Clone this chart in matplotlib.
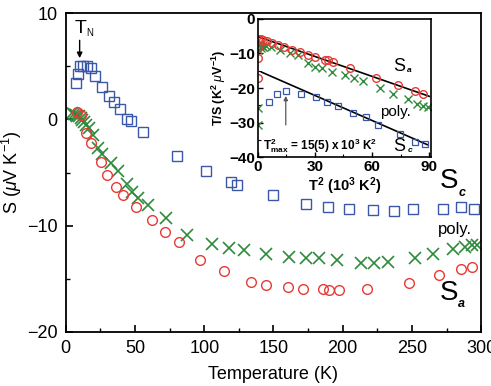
import numpy as np
import matplotlib.pyplot as plt

plt.rcParams['font.family'] = ['Liberation Sans', 'DejaVu Sans']
plt.rcParams['mathtext.fontset'] = 'custom'
plt.rcParams['mathtext.rm'] = 'Liberation Sans'
plt.rcParams['mathtext.it'] = 'Liberation Sans:italic'
plt.rcParams['mathtext.bf'] = 'Liberation Sans:bold'

# main panel: S vs T
T_c = [7.7, 8.9, 10.1, 12.5, 15.0, 18.1, 20.8, 26.2, 31.3, 34.9, 39.0, 43.9, 47.0, 55.5,
       80.5, 101, 119, 123.9, 149.9, 173.5, 189.2, 204.4, 221.8, 236.7, 250.7, 272.1, 285.6, 295]
S_c = [3.4, 4.25, 5.07, 5.07, 4.98, 4.88, 4.13, 3.07, 2.16, 1.62, 1.0, 0.07, -0.19, -1.19,
       -3.47, -4.88, -5.92, -6.13, -7.14, -7.92, -8.23, -8.39, -8.54, -8.64, -8.39, -8.39, -8.23, -8.42]

T_a = [8.0, 10.8, 14.5, 18, 25.1, 30.1, 36.6, 41.5, 50.6, 62, 71.6, 81.7, 96.9, 114.2, 133.5,
       144.6, 160.7, 171.1, 185.6, 190.4, 197.6, 217.4, 248.2, 269.7, 285.4, 293.3]
S_a = [0.65, 0.44, -1.3, -2.2, -4.0, -5.26, -6.35, -7.14, -8.26, -9.5, -10.6, -11.5, -13.2, -14.3,
       -15.28, -15.59, -15.74, -15.93, -16.0, -16.03, -16.03, -15.93, -15.37, -14.68, -14.1, -13.9]

T_p = [4.8, 6.0, 7.2, 8.4, 9.6, 10.8, 12, 13.2, 14.5, 16.8, 19.3, 22.9, 26.5, 33, 37.8, 43.9, 48,
       52.3, 59.5, 72.3, 87.3, 105.3, 118.1, 128.9, 144.6, 161.5, 173.5, 183.2, 196.2, 213.1,
       222.7, 233, 252.3, 264.9, 279.3, 288.5, 293.3, 297]
S_p = [0.6, 0.5, 0.44, 0.35, 0.28, 0.15, -0.03, -0.25, -0.5, -0.8, -1.44, -2.7, -3.3, -4.1, -4.9,
       -6.1, -6.8, -7.4, -8.1, -9.27, -10.9, -11.7, -12.14, -12.33, -12.7, -12.96, -13.08, -13.08,
       -13.27, -13.49, -13.49, -13.4, -13.0, -12.7, -12.24, -12.0, -11.86, -11.86]

# inset: T/S vs T^2
x_a = [0.1, 0.15, 0.2, 0.3, 1.5, 3, 5, 7.5, 10.7, 14, 18, 22, 26.5, 30, 35.3, 37, 39.6, 48.4,
       61.9, 73.5, 82.3, 86.5]
y_a = [-17.2, -11.4, -8.5, -5.8, -5.9, -6.1, -6.4, -6.9, -7.5, -8.2, -9, -9.6, -10.4, -11,
       -11.9, -12.0, -12.4, -14.3, -17, -19.1, -20.9, -21.8]
x_p = [0.2, 0.25, 0.3, 0.5, 1, 1.5, 2, 3, 4.5, 7.2, 11.6, 16.8, 21.2, 26.5, 30, 33.5, 38.8,
       45.8, 50.5, 55.4, 64.2, 70.9, 79.1, 83.5, 86.7, 89.6]
y_p = [-30.7, -25.9, -9, -7.2, -7.5, -8.5, -7.8, -8.2, -7.9, -8, -9, -9.8, -10.4, -12.8, -13.8,
       -14.3, -15.3, -16.2, -17.2, -18, -20.1, -21.8, -23.3, -24.7, -25.2, -25.6]
x_c = [6.0, 10.2, 14.7, 22.5, 30.4, 36.5, 42.3, 49.8, 56.7, 63.3, 74.7, 82.3, 87.6]
y_c = [-24.1, -21.7, -20.8, -21.7, -22.7, -24, -25.2, -27.2, -28.3, -30.7, -33.4, -35.6, -36.1]
fit_a_x, fit_a_y = [0, 90], [-5.1, -22.4]
fit_c_x, fit_c_y = [2, 89], [-15.4, -36.4]

red, green, blue = '#e83a35', '#2f8a3c', '#3b58a8'

fig = plt.figure(figsize=(4.91, 3.86), dpi=100)
ax = fig.add_axes([0.134, 0.140, 0.846, 0.826])
ax.plot(T_c, S_c, 's', ms=6.5, mfc='none', mec=blue, mew=1.0)
ax.plot(T_p, S_p, 'x', ms=8, color=green, mew=1.2)
ax.plot(T_a, S_a, 'o', ms=7, mfc='none', mec=red, mew=1.0)
ax.set_xlim(0, 300)
ax.set_ylim(-20, 10)
ax.set_xticks(range(0, 301, 50))
ax.set_xticks(range(25, 300, 50), minor=True)
ax.set_yticks([-20, -10, 0, 10])
ax.set_yticks([-15, -5, 5], minor=True)
ax.tick_params(direction='in', labelsize=13, length=5, width=1.2, pad=6)
ax.tick_params(which='minor', direction='in', length=3, width=1.0)
for s in ax.spines.values():
    s.set_linewidth(1.3)
ax.set_xlabel('Temperature (K)', fontsize=13, labelpad=6)
ax.set_ylabel(r'S ($\mu$V K$^{-1}$)', fontsize=13, labelpad=2)
ax.annotate('', xy=(10, 5.5), xytext=(10, 7.7),
            arrowprops=dict(arrowstyle='-|>', color='black', lw=1.0, mutation_scale=8))
ax.text(6.5, 8.6, 'T', fontsize=14, va='center')
ax.text(15, 8.1, 'N', fontsize=7, va='center')
ax.text(270, -5.8, 'S', fontsize=20, va='center')
ax.text(283.5, -6.9, 'c', fontsize=9, fontweight='bold', style='italic', va='center')
ax.text(269, -10.4, 'poly.', fontsize=12, va='center')
ax.text(270, -16.3, 'S', fontsize=20, va='center')
ax.text(283.5, -17.4, 'a', fontsize=9, fontweight='bold', style='italic', va='center')

ins = fig.add_axes([0.525, 0.593, 0.353, 0.358])
ins.plot(fit_a_x, fit_a_y, color='black', lw=1.2)
ins.plot(fit_c_x, fit_c_y, color='black', lw=1.2)
ins.plot(x_c, y_c, 's', ms=4.5, mfc='none', mec=blue, mew=0.9)
ins.plot(x_p, y_p, 'x', ms=5.5, color=green, mew=1.0)
ins.plot(x_a, y_a, 'o', ms=5.5, mfc='none', mec=red, mew=1.0)
ins.set_xlim(0, 91)
ins.set_ylim(-40, 0)
ins.set_xticks([0, 30, 60, 90])
ins.set_xticks([15, 45, 75], minor=True)
ins.set_yticks([-40, -30, -20, -10, 0])
ins.set_yticks([-35, -25, -15, -5], minor=True)
ins.tick_params(direction='in', labelsize=11, length=3.5, width=1.0, pad=2)
ins.tick_params(which='minor', direction='in', length=2, width=0.8)
for lab in ins.get_xticklabels() + ins.get_yticklabels():
    lab.set_fontweight('bold')
for s in ins.spines.values():
    s.set_linewidth(1.2)
ins.set_xlabel(r'$\mathbf{T^2}$ (10$^\mathbf{3}$ K$^\mathbf{2}$)', fontsize=10.5,
               fontweight='bold', labelpad=1)
ins.set_ylabel(r'T/S (K$^\mathbf{2}$ $\mu$V$^\mathbf{-1}$)', fontsize=9, fontweight='bold', labelpad=1)
ins.annotate('', xy=(14.7, -21.5), xytext=(14.7, -31.5),
             arrowprops=dict(arrowstyle='-|>', color='#555555', lw=0.9, mutation_scale=6))
ins.text(3, -36.8, r'$\mathbf{T^{2}_{max}}$ = 15(5) x 10$^\mathbf{3}$ K$^\mathbf{2}$', fontsize=8.5,
         fontweight='bold', va='center')
ins.text(71, -13.9, 'S', fontsize=13, va='center')
ins.text(78.5, -15.0, 'a', fontsize=6, fontweight='bold', style='italic', va='center')
ins.text(64, -27, 'poly.', fontsize=11, va='center')
ins.text(71, -37, 'S', fontsize=13, va='center')
ins.text(78.5, -38.2, 'c', fontsize=6, fontweight='bold', style='italic', va='center')

fig.savefig('out.png', dpi=100)
